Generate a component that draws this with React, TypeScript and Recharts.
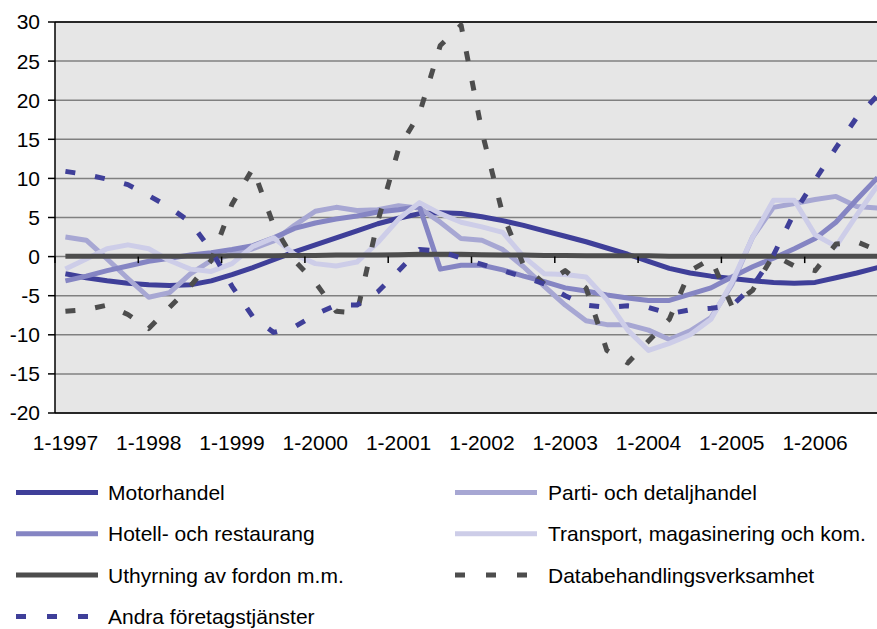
import React from 'react';
import { LineChart, Line, XAxis, YAxis, CartesianGrid, ReferenceLine } from 'recharts';

const quarterLabels = [
  '1-1997', '2-1997', '3-1997', '4-1997',
  '1-1998', '2-1998', '3-1998', '4-1998',
  '1-1999', '2-1999', '3-1999', '4-1999',
  '1-2000', '2-2000', '3-2000', '4-2000',
  '1-2001', '2-2001', '3-2001', '4-2001',
  '1-2002', '2-2002', '3-2002', '4-2002',
  '1-2003', '2-2003', '3-2003', '4-2003',
  '1-2004', '2-2004', '3-2004', '4-2004',
  '1-2005', '2-2005', '3-2005', '4-2005',
  '1-2006', '2-2006', '3-2006', '4-2006',
];

const xTickIdx = [0, 4, 8, 12, 16, 20, 24, 28, 32, 36];
const yTicks = [-20, -15, -10, -5, 0, 5, 10, 15, 20, 25, 30];

const motorhandel = [-2.2, -2.7, -3.1, -3.4, -3.6, -3.7, -3.6, -3.1, -2.3, -1.4, -0.4, 0.6, 1.5, 2.4, 3.3, 4.2, 4.9, 5.5, 5.6, 5.5, 5.1, 4.6, 4.0, 3.3, 2.6, 1.9, 1.1, 0.3, -0.6, -1.5, -2.1, -2.5, -2.8, -3.1, -3.3, -3.4, -3.3, -2.7, -2.1, -1.4];
const parti = [2.5, 2.1, -0.3, -2.8, -5.2, -4.6, -2.2, -0.5, 0.3, 1.0, 2.0, 4.0, 5.8, 6.3, 5.9, 6.0, 6.5, 6.2, 4.4, 2.3, 2.1, 0.9, -1.3, -3.8, -6.2, -8.2, -8.7, -8.7, -9.4, -10.6, -9.5, -7.8, -3.6, 2.5, 6.3, 6.8, 7.3, 7.7, 6.4, 6.2];
const hotell = [-3.1, -2.5, -1.8, -1.2, -0.6, -0.2, 0.2, 0.5, 0.9, 1.4, 2.4, 3.6, 4.3, 4.8, 5.2, 5.7, 6.0, 6.4, -1.6, -1.1, -1.1, -1.7, -2.5, -3.2, -4.0, -4.4, -4.9, -5.3, -5.6, -5.6, -4.8, -4.0, -2.6, -1.3, -0.2, 1.0, 2.3, 4.4, 7.3, 10.1];
const transport = [-1.6, -0.3, 1.0, 1.5, 1.0, -0.5, -1.6, -1.9, -0.9, 1.3, 2.4, 0.3, -0.9, -1.2, -0.7, 1.8, 4.8, 6.9, 5.5, 4.4, 3.8, 3.1, 0.0, -2.2, -2.3, -2.6, -5.5, -9.4, -12.0, -11.1, -10.0, -8.0, -3.3, 2.5, 7.2, 7.2, 2.8, 1.3, 5.3, 9.1];
const uthyrning = [0.05, 0.05, 0.05, 0.05, 0.05, 0.05, 0.05, 0.05, 0.1, 0.1, 0.1, 0.15, 0.15, 0.2, 0.2, 0.2, 0.25, 0.3, 0.3, 0.3, 0.25, 0.2, 0.2, 0.15, 0.15, 0.1, 0.1, 0.1, 0.1, 0.05, 0.05, 0.05, 0.05, 0.05, 0.05, 0.05, 0.05, 0.05, 0.05, 0.05];
const databehandling = [-7.0, -6.8, -6.2, -7.4, -9.2, -6.5, -3.8, -0.5, 6.7, 11.3, 4.0, -0.5, -3.3, -7.0, -7.2, 4.5, 13.8, 18.3, 27.0, 29.6, 16.0, 5.4, -1.1, -3.5, -1.8, -4.0, -12.0, -13.6, -10.8, -8.0, -1.8, -0.3, -6.3, -4.3, 0.2, -1.2, -1.8, 1.6, 1.9, 0.8];
const andra = [10.9, 10.5, 9.9, 9.2, 7.8, 6.3, 4.4, 0.8, -3.8, -7.7, -9.7, -9.0, -7.4, -6.2, -6.2, -4.5, -1.8, 0.9, 0.7, -0.2, -1.0, -1.8, -2.6, -3.5, -5.0, -6.2, -6.5, -6.3, -6.5, -7.3, -6.8, -6.6, -6.3, -3.8, 0.2, 5.6, 9.8, 13.9, 17.8, 20.6];

const series = [
  { key: 'motor', name: 'Motorhandel', color: '#3F3F99', dashed: false, values: motorhandel },
  { key: 'parti', name: 'Parti- och detaljhandel', color: '#A7A7D3', dashed: false, values: parti },
  { key: 'hotell', name: 'Hotell- och restaurang', color: '#8585C3', dashed: false, values: hotell },
  { key: 'transport', name: 'Transport, magasinering och kom.', color: '#CDCDE8', dashed: false, values: transport },
  { key: 'uthyrning', name: 'Uthyrning av fordon m.m.', color: '#4D4D4D', dashed: false, values: uthyrning },
  { key: 'data', name: 'Databehandlingsverksamhet', color: '#4D4D4D', dashed: true, values: databehandling },
  { key: 'andra', name: 'Andra företagstjänster', color: '#3F3F99', dashed: true, values: andra },
];

const data = quarterLabels.map((q, i) => {
  const row: Record<string, number | string> = { i, q };
  series.forEach((s) => {
    row[s.key] = s.values[i];
  });
  return row;
});

const FONT = '"Liberation Sans", Arial, sans-serif';
const CHART_W = 888;
const CHART_H = 470;
const PLOT_TOP = 22;
const PLOT_LEFT = 55;
const PLOT_H = 391;
const PLOT_W = CHART_W - PLOT_LEFT;
const UNIT = PLOT_W / quarterLabels.length;
const ZERO_Y = PLOT_TOP + PLOT_H * (30 / 50);

function renderXTick(props: any) {
  const { x, y, payload } = props;
  const bx = x - UNIT / 2;
  return (
    <g>
      <line x1={bx} x2={bx} y1={ZERO_Y} y2={ZERO_Y + 6.5} stroke="#000" strokeWidth={1.5} />
      <text x={x} y={y} dy="0.71em" textAnchor="middle" fontSize={21} fill="#000" fontFamily={FONT}>
        {quarterLabels[payload.value]}
      </text>
    </g>
  );
}

function Legend() {
  const rowY0 = 492.5;
  const rowGap = 41.3;
  const cols = [
    { lineX: 16, textX: 108 },
    { lineX: 455, textX: 548 },
  ];
  return (
    <svg width={877} height={629} style={{ position: 'absolute', left: 0, top: 0, pointerEvents: 'none' }}>
      {series.map((s, idx) => {
        const col = cols[idx % 2];
        const y = rowY0 + rowGap * Math.floor(idx / 2);
        return (
          <g key={s.key}>
            <line
              x1={col.lineX}
              x2={col.lineX + 82}
              y1={y}
              y2={y}
              stroke={s.color}
              strokeWidth={5}
              strokeDasharray={s.dashed ? '10 21' : undefined}
            />
            <text x={col.textX} y={y + 7.5} fontSize={21} fill="#000" fontFamily={FONT}>
              {s.name}
            </text>
          </g>
        );
      })}
    </svg>
  );
}

export default function App() {
  return (
    <div
      style={{
        position: 'absolute',
        left: 0,
        top: 0,
        width: 877,
        height: 629,
        overflow: 'hidden',
        background: '#fff',
        fontFamily: FONT,
      }}
    >
      <LineChart width={CHART_W} height={CHART_H} data={data} margin={{ top: PLOT_TOP, right: 0, bottom: 0, left: 0 }}>
        <CartesianGrid vertical={false} stroke="#808080" strokeWidth={1.5} fill="#E6E6E6" fillOpacity={1} />
        <XAxis
          type="number"
          dataKey="i"
          domain={[-0.5, quarterLabels.length - 0.5]}
          ticks={xTickIdx}
          interval={0}
          axisLine={false}
          tickLine={false}
          tickSize={0}
          tickMargin={22}
          height={CHART_H - PLOT_TOP - PLOT_H}
          tick={renderXTick}
          allowDataOverflow
        />
        <YAxis
          type="number"
          domain={[-20, 30]}
          ticks={yTicks}
          interval={0}
          width={PLOT_LEFT}
          tick={{ fontSize: 21, fill: '#000', fontFamily: FONT }}
          tickSize={7}
          tickMargin={8}
          axisLine={{ stroke: '#000', strokeWidth: 1.5 }}
          tickLine={{ stroke: '#000', strokeWidth: 1.5 }}
        />
        <ReferenceLine y={30} stroke="#000" strokeWidth={1.5} />
        <ReferenceLine y={-20} stroke="#000" strokeWidth={1.5} />
        {series.map((s) => (
          <Line
            key={s.key}
            type="linear"
            dataKey={s.key}
            name={s.name}
            stroke={s.color}
            strokeWidth={5}
            strokeDasharray={s.dashed ? '10 20' : undefined}
            strokeLinejoin="round"
            dot={false}
            activeDot={false}
            isAnimationActive={false}
          />
        ))}
      </LineChart>
      <Legend />
    </div>
  );
}
